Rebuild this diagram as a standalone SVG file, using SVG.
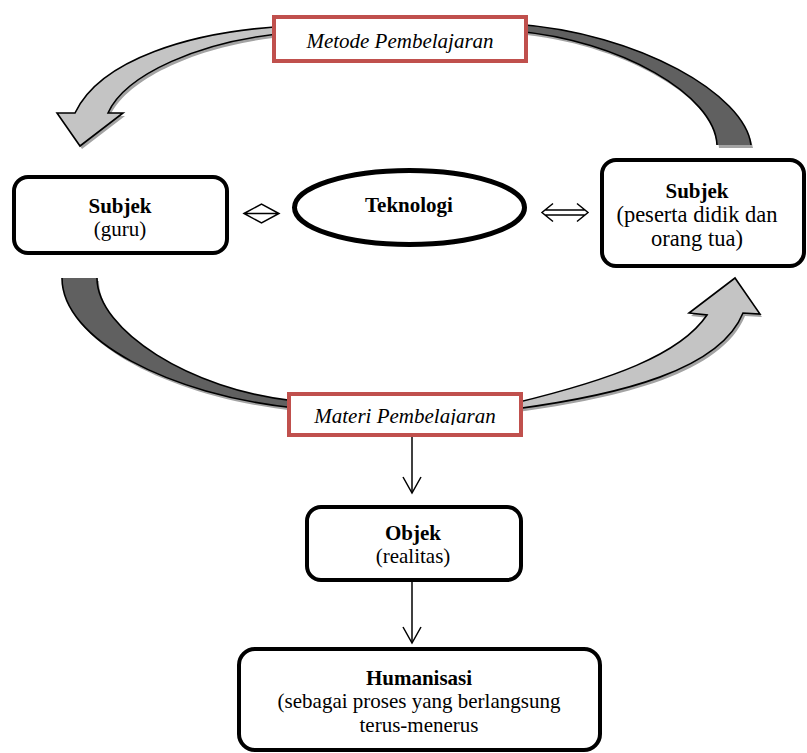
<svg xmlns="http://www.w3.org/2000/svg" width="807" height="753" viewBox="0 0 807 753">
<style>
text{font-family:"Liberation Serif","Times New Roman",serif;font-size:21px;fill:#000;text-anchor:middle}
.b{font-weight:bold}
.i{font-style:italic}
.big{font-size:22.5px}
.node{fill:#fff;stroke:#000;stroke-width:4}
.label{fill:#fff;stroke:#c0504d;stroke-width:4}
.shadow{fill:#a3a3a3;stroke:none}
.light{fill:#c4c4c4;stroke:none}
.dark{fill:#606060;stroke:none}
.edge{fill:none;stroke:#000;stroke-width:1.6}
.line{fill:none;stroke:#000;stroke-width:1.5}
</style>
<defs>
<marker id="chev" markerUnits="userSpaceOnUse" markerWidth="20" markerHeight="22" viewBox="0 0 20 22" refX="17" refY="11" orient="auto">
<path d="M1,2 L17,11 L1,20" fill="none" stroke="#000" stroke-width="1.5"/>
</marker>
<clipPath id="clipMateri"><rect x="289" y="394" width="232" height="31"/></clipPath>
</defs>

<g id="connectors">
<g transform="translate(2,3)">
<path class="shadow" d="M290,26 C190,31 100,60 75,113 L57,113 L80,146 L123,113 L108,113 C125,75 200,40 290,33 Z"/>
<path class="shadow" d="M515,24 C640,33 745,95 751,145 L717,145 C715,95 620,40 515,31 Z"/>
<path class="shadow" d="M62,278 C62,340 170,395 295,408 L295,401 C190,390 97,330 97,278 Z"/>
<path class="shadow" d="M515,403 C610,380 680,355 707,315 L689,313 L735,278 L760,314 L743,313 C720,370 620,395 515,409 Z"/>
</g>
<path class="light" d="M290,26 C190,31 100,60 75,113 L57,113 L80,146 L123,113 L108,113 C125,75 200,40 290,33 Z"/>
<path class="edge" d="M290,26 C190,31 100,60 75,113 L57,113 L80,146 L123,113 L108,113 C125,75 200,40 290,33"/>
<path class="dark" d="M515,24 C640,33 745,95 751,145 L717,145 C715,95 620,40 515,31 Z"/>
<path class="edge" d="M515,24 C640,33 745,95 751,145 M717,145 C715,95 620,40 515,31"/>
<path class="dark" d="M62,278 C62,340 170,395 295,408 L295,401 C190,390 97,330 97,278 Z"/>
<path class="edge" d="M62,278 C62,340 170,395 295,408 M295,401 C190,390 97,330 97,278"/>
<path class="light" d="M515,403 C610,380 680,355 707,315 L689,313 L735,278 L760,314 L743,313 C720,370 620,395 515,409 Z"/>
<path class="edge" d="M515,403 C610,380 680,355 707,315 L689,313 L735,278 L760,314 L743,313 C720,370 620,395 515,409"/>
<path class="line" d="M244,213.5 L261.5,204 L279,213.5 L261.5,223 Z M244,213.5 L279,213.5"/>
<path class="line" d="M553,203.5 L542,212.5 L553,221.5 M577,203.5 L588,212.5 L577,221.5 M545,210 L585,210 M545,215 L585,215"/>
<line class="line" x1="412" y1="437" x2="412" y2="493" marker-end="url(#chev)"/>
<line class="line" x1="412" y1="582" x2="412" y2="643" marker-end="url(#chev)"/>
</g>

<g id="metode">
<rect class="label" x="274" y="17" width="252" height="44"/>
<text class="i" x="400" y="48">Metode Pembelajaran</text>
</g>

<g id="materi">
<rect class="label" x="289" y="394" width="232" height="41"/>
<text class="i" x="405" y="423" clip-path="url(#clipMateri)">Materi Pembelajaran</text>
</g>

<g id="subjek-guru">
<rect class="node" x="14" y="177" width="213" height="76" rx="14"/>
<text class="b" x="120" y="213">Subjek</text>
<text x="120" y="236">(guru)</text>
</g>

<g id="teknologi">
<ellipse class="node" cx="409.5" cy="207.5" rx="115" ry="37" style="stroke-width:5"/>
<text class="b" x="409" y="212">Teknologi</text>
</g>

<g id="subjek-peserta">
<rect class="node" x="602" y="160" width="202" height="106" rx="14"/>
<text class="b" x="697" y="198">Subjek</text>
<text class="big" x="697" y="222">(peserta didik dan</text>
<text class="big" x="697" y="246">orang tua)</text>
</g>

<g id="objek">
<rect class="node" x="307" y="507" width="214" height="73" rx="14"/>
<text class="b" x="413" y="540">Objek</text>
<text x="413" y="563">(realitas)</text>
</g>

<g id="humanisasi">
<rect class="node" x="239" y="649" width="361" height="101" rx="16"/>
<text class="b" x="419" y="685">Humanisasi</text>
<text x="419" y="708">(sebagai proses yang berlangsung</text>
<text x="419" y="732">terus-menerus</text>
</g>
</svg>
